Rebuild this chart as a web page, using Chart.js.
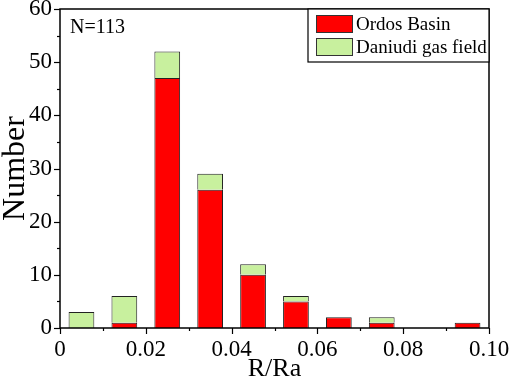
<!DOCTYPE html>
<html>
<head>
<meta charset="utf-8">
<script src="https://cdn.jsdelivr.net/npm/chart.js@4"></script>
<style>
  html, body { margin: 0; padding: 0; background: #fff; }
  #wrap { width: 512px; height: 381px; position: relative; }
</style>
</head>
<body>
<div id="wrap"><canvas id="chart" width="512" height="381"></canvas></div>
<script>
// Data (bin centres of R/Ra, counts per bin)
const binCenters = [0.005, 0.015, 0.025, 0.035, 0.045, 0.055, 0.065, 0.075, 0.085, 0.095];
const ordosCounts = [0, 1, 47, 26, 10, 5, 2, 1, 0, 1];
const daniudiCounts = [3, 5, 5, 3, 2, 1, 0, 1, 0, 0];
const seriesNames = ['Ordos Basin', 'Daniudi gas field'];
const sampleLabel = 'N=113';

const FONT = "'Liberation Serif', 'DejaVu Serif', serif";
const RED = '#ff0000';
const GREEN = 'rgb(200, 240, 158)';

const toPoints = (vals) => binCenters.map((x, i) => ({ x: x, y: vals[i] }));

// draws the frame, ticks, legend box and the N label
const decorations = {
    id: 'decorations',
    afterDraw(chart) {
        const ctx = chart.ctx;
        const area = chart.chartArea;
        const xs = chart.scales.x, ys = chart.scales.y;
        ctx.save();

        // major (even) and minor (odd) ticks, pointing outward
        ctx.strokeStyle = '#000';
        ctx.lineWidth = 1.2;
        xs.ticks.forEach((t, i) => {
            const len = i % 2 === 0 ? 6 : 3;
            const px = Math.round(xs.getPixelForValue(t.value)) + 0.5;
            ctx.beginPath();
            ctx.moveTo(px, area.bottom);
            ctx.lineTo(px, area.bottom + len);
            ctx.stroke();
        });
        ys.ticks.forEach((t, i) => {
            const len = i % 2 === 0 ? 6 : 3;
            const py = Math.round(ys.getPixelForValue(t.value)) + 0.5;
            ctx.beginPath();
            ctx.moveTo(area.left, py);
            ctx.lineTo(area.left - len, py);
            ctx.stroke();
        });

        // frame
        ctx.lineWidth = 1.5;
        ctx.strokeRect(area.left, area.top, area.right - area.left, area.bottom - area.top);

        // sample size
        ctx.fillStyle = '#000';
        ctx.font = '20px ' + FONT;
        ctx.textBaseline = 'alphabetic';
        ctx.fillText(sampleLabel, area.left + 10, area.top + 24);

        // legend
        const lw = 181, lh = 53;
        const lx = area.right - lw, ly = area.top;
        ctx.fillStyle = '#fff';
        ctx.fillRect(lx, ly, lw, lh);
        ctx.lineWidth = 1.2;
        ctx.strokeStyle = '#000';
        ctx.strokeRect(lx, ly, lw, lh);
        chart.data.datasets.forEach((ds, i) => {
            const sy = ly + 6 + i * 23;
            ctx.fillStyle = ds.backgroundColor;
            ctx.fillRect(lx + 8, sy, 36, 17);
            ctx.strokeStyle = '#333';
            ctx.lineWidth = 1;
            ctx.strokeRect(lx + 8.5, sy + 0.5, 36, 17);
            ctx.fillStyle = '#000';
            ctx.font = '19px ' + FONT;
            ctx.fillText(ds.label, lx + 48, sy + 15);
        });
        ctx.restore();
    }
};

new Chart(document.getElementById('chart'), {
    type: 'bar',
    data: {
        datasets: [
            {
                label: seriesNames[0],
                data: toPoints(ordosCounts),
                backgroundColor: RED,
                borderColor: '#222',
                borderWidth: 1,
                stack: 's'
            },
            {
                label: seriesNames[1],
                data: toPoints(daniudiCounts),
                backgroundColor: GREEN,
                borderColor: '#222',
                borderWidth: 1,
                stack: 's'
            }
        ]
    },
    options: {
        responsive: false,
        animation: false,
        barPercentage: 0.6,
        categoryPercentage: 1.0,
        layout: { padding: { top: 9, right: 23, left: 0, bottom: 0 } },
        plugins: {
            legend: { display: false },
            tooltip: { enabled: false }
        },
        scales: {
            x: {
                type: 'linear',
                stacked: true,
                offset: false,
                min: 0,
                max: 0.1,
                afterFit(scale) {
                    scale.height = 53;
                    scale.paddingLeft = 0;
                    scale.paddingRight = 0;
                },
                grid: { display: false, tickLength: 6 },
                border: { display: false },
                ticks: {
                    stepSize: 0.01,
                    autoSkip: false,
                    maxRotation: 0,
                    padding: 2,
                    color: '#000',
                    font: { family: FONT, size: 23 },
                    callback: (v, i) => (i % 2 === 0 ? (v === 0 ? '0' : v.toFixed(2)) : '')
                },
                title: {
                    display: true,
                    text: 'R/Ra',
                    color: '#000',
                    font: { family: FONT, size: 26, lineHeight: 0.9 },
                    padding: { top: 0, bottom: 0 }
                }
            },
            y: {
                stacked: true,
                min: 0,
                max: 60,
                afterFit(scale) {
                    scale.width = 60;
                    scale.paddingTop = 0;
                    scale.paddingBottom = 0;
                },
                grid: { display: false, tickLength: 6 },
                border: { display: false },
                ticks: {
                    stepSize: 5,
                    autoSkip: false,
                    padding: 2,
                    color: '#000',
                    font: { family: FONT, size: 23 },
                    callback: (v, i) => (i % 2 === 0 ? String(v) : '')
                },
                title: {
                    display: true,
                    text: 'Number',
                    color: '#000',
                    font: { family: FONT, size: 32, lineHeight: 1.0 },
                    padding: { top: 0, bottom: 0 }
                }
            }
        }
    },
    plugins: [decorations]
});
</script>
</body>
</html>
